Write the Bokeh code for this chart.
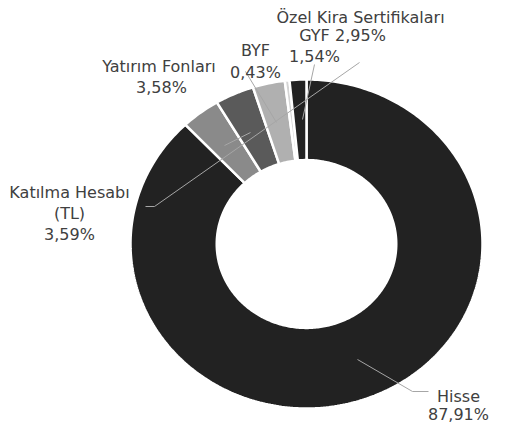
import numpy as np
from bokeh.plotting import figure
from bokeh.models import Range1d, ColumnDataSource
from bokeh.core.properties import value
from bokeh.embed import file_html
from bokeh.resources import INLINE

# ---- data ----
categories = ["Hisse", "Katılma Hesabı (TL)", "Yatırım Fonları",
              "Özel Kira Sertifikaları", "BYF", "GYF"]
shares = [87.91, 3.59, 3.58, 2.95, 0.43, 1.54]
label_lines = [["Hisse"], ["Katılma Hesabı", "(TL)"], ["Yatırım  Fonları"],
               ["Özel Kira Sertifikaları"], ["BYF"], ["GYF"]]

# ---- style / layout ----
palette = ["#222222", "#8a8a8a", "#5a5a5a", "#b0b0b0", "#d4d4d4", "#222222"]
W, H = 492, 425
OX, OY = 8, 8                 # page margin
CX, CY = 314, 251.5           # donut centre (page px)
RX, RY = 176, 164.5           # outer radius in px (x / y)
HOLE = 0.51
# label anchor (centre x, first baseline y) in page px
label_pos = [(466, 404), (77, 200), (169, 74), (368, 25), (263, 58), (322, 43)]
line_gap = [18, 21, 21, 18, 22, 21]
leaders = [
    [(365, 367), (420, 399), (436, 399)],
    [(153, 214), (162, 214), (367, 70)],
    [(232, 153), (258, 140)],
    [(253, 79), (284, 130)],
    [(322, 72), (310, 127)],
]


def X(px):
    return (px - CX) / RX


def Y(py):
    return (CY - py) / RY


p = figure(width=W, height=H, output_backend="svg", toolbar_location=None,
           x_range=Range1d(X(OX), X(OX + W)), y_range=Range1d(Y(OY + H), Y(OY)),
           x_axis_location=None, y_axis_location=None, min_border=0,
           outline_line_color=None)
p.grid.visible = False
p.background_fill_color = "white"
p.border_fill_color = "white"

# ---- donut segments ----
total = sum(shares)
cum = np.concatenate([[0], np.cumsum(shares)]) / total
xs, ys = [], []
for i in range(len(shares)):
    n = max(4, int(400 * (cum[i + 1] - cum[i])))
    t = 2 * np.pi * np.linspace(cum[i], cum[i + 1], n)
    ox, oy = np.sin(t), np.cos(t)
    ix, iy = HOLE * np.sin(t[::-1]), HOLE * np.cos(t[::-1])
    xs.append(list(np.concatenate([ox, ix])))
    ys.append(list(np.concatenate([oy, iy])))
src = ColumnDataSource(dict(xs=xs, ys=ys, color=palette, name=categories))
p.patches("xs", "ys", source=src, fill_color="color", line_color="white",
          line_width=2.5)

# ---- leader lines ----
p.multi_line([[X(a) for a, b in seg] for seg in leaders],
             [[Y(b) for a, b in seg] for seg in leaders],
             line_color="#a6a6a6", line_width=1)

# ---- labels ----
tx, ty, tt = [], [], []
for lines, v, (lx, ly), gap in zip(label_lines, shares, label_pos, line_gap):
    pct = f"{v:.2f}".replace(".", ",") + "%"
    rows = lines + [pct]
    for k, r in enumerate(rows):
        tx.append(X(lx))
        ty.append(Y(ly + k * gap))
        tt.append(r)
p.text(tx, ty, text=tt, text_align="center", text_baseline="alphabetic",
       text_font=value("DejaVu Sans"), text_font_size="16px",
       text_color="#404040")

open("out.html", "w").write(file_html(p, INLINE))
